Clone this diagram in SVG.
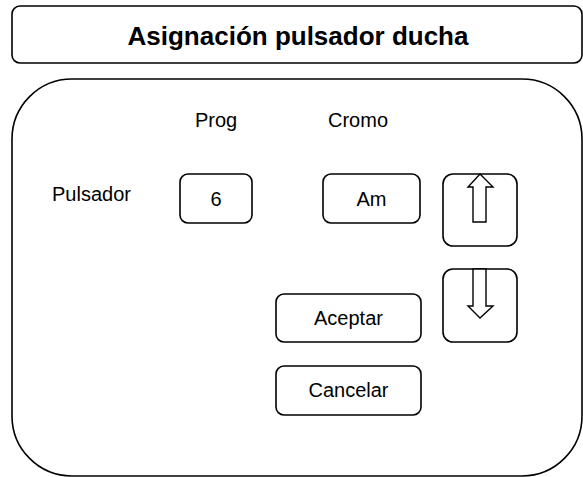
<svg xmlns="http://www.w3.org/2000/svg" width="583" height="477" viewBox="0 0 583 477">
<style>
.box{fill:#fff;stroke:#000;stroke-width:1.6}
.arr{fill:#fff;stroke:#000;stroke-width:1.4;stroke-linejoin:miter}
.t{font-family:"Liberation Sans",Arial,sans-serif;font-size:20px;fill:#000}
.c{text-anchor:middle}
.title{font-family:"Liberation Sans",Arial,sans-serif;font-size:26px;font-weight:bold;fill:#000;text-anchor:middle}
</style>
<rect width="583" height="477" fill="#fff"/>
<g id="title">
<rect class="box" x="12" y="6" width="570" height="57" rx="8"/>
<text class="title" x="298" y="45">Asignación pulsador ducha</text>
</g>
<g id="panel">
<rect class="box" x="12" y="79" width="570" height="397" rx="60"/>
</g>
<g id="labels">
<text class="t" x="195" y="127">Prog</text>
<text class="t" x="328" y="127">Cromo</text>
<text class="t" x="52" y="201">Pulsador</text>
</g>
<g id="prog">
<rect class="box" x="180" y="174" width="72" height="49" rx="8"/>
<text class="t c" x="216" y="206">6</text>
</g>
<g id="cromo">
<rect class="box" x="323" y="174" width="97" height="49" rx="8"/>
<text class="t c" x="371.5" y="206">Am</text>
</g>
<g id="up">
<rect class="box" x="443" y="174" width="74" height="72" rx="10"/>
<polygon class="arr" points="480,174 493,187 486,187 486,222 473,222 473,187 468,187"/>
</g>
<g id="down">
<rect class="box" x="443" y="269" width="74" height="73" rx="10"/>
<polygon class="arr" points="473,269 486,269 486,306 493,306 480,318 468,306 473,306"/>
</g>
<g id="aceptar">
<rect class="box" x="276" y="294" width="145" height="48" rx="8"/>
<text class="t c" x="348.5" y="325">Aceptar</text>
</g>
<g id="cancelar">
<rect class="box" x="276" y="366" width="145" height="49" rx="8"/>
<text class="t c" x="348.5" y="397">Cancelar</text>
</g>
<g id="connectors"></g>
</svg>
